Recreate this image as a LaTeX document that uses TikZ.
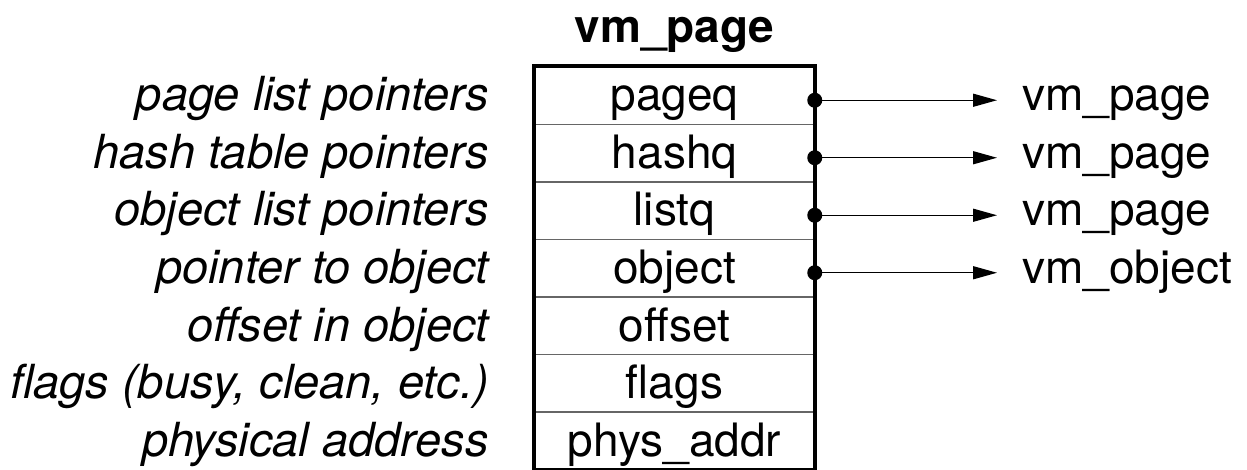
\documentclass[tikz,border=0pt]{standalone}
\usepackage{fontspec}
\setmainfont{TeX Gyre Heros}
\usetikzlibrary{arrows.meta}
\newcommand\bigtext{\fontsize{46}{55}\selectfont}
\newcommand\notetext{\fontsize{47}{56}\selectfont}
\tikzset{
  field/.style={draw=black!60, line width=1.5pt, minimum width=279pt, minimum height=57.5pt,
    inner sep=0pt, text height=36pt, text depth=5.5pt, anchor=center, font=\bigtext},
  frame/.style={draw=black, line width=4pt},
  note/.style={anchor=base east, inner sep=0pt, font=\notetext\itshape},
  target/.style={anchor=base west, inner sep=0pt, font=\bigtext},
  ptr/.style={line width=1.4pt, -{Triangle[length=24pt,width=13pt]}},
  port/.style={fill=black},
}
\begin{document}
\begin{tikzpicture}[x=1pt,y=-1pt]
\useasboundingbox (0,0) rectangle (1247,470);

% structure title
\node[anchor=base, inner sep=0pt, font=\bigtext\bfseries] (title) at (674.5,43) {vm\_page};

% fields of the structure
\node[field] (r1) at (674.5, 95.75) {pageq};
\node[field] (r2) at (674.5,153.25) {hashq};
\node[field] (r3) at (674.5,210.75) {listq};
\node[field] (r4) at (674.5,268.25) {object};
\node[field] (r5) at (674.5,325.75) {offset};
\node[field] (r6) at (674.5,383.25) {flags};
\node[field] (r7) at (674.5,440.75) {phys\_addr};

% outer frame
\draw[frame] (r1.north west) rectangle (r7.south east);

% descriptions on the left
\node[note] (n1) at (489,111) {page list pointers};
\node[note] (n2) at (489,168.5) {hash table pointers};
\node[note] (n3) at (489,226) {object list pointers};
\node[note] (n4) at (489,283.5) {pointer to object};
\node[note] (n5) at (489,341) {offset in object};
\node[note] (n6) at (489,398.5) {flags (busy, clean, etc.)};
\node[note] (n7) at (489,456) {physical address};

% referenced structures on the right
\node[target] (t1) at (1022,111) {vm\_page};
\node[target] (t2) at (1022,168.5) {vm\_page};
\node[target] (t3) at (1022,226) {vm\_page};
\node[target] (t4) at (1022,283.5) {vm\_object};

% pointer fields
\foreach \i in {1,2,3,4}{
  \coordinate (d\i) at ([yshift=-4.5pt]r\i.east);
  \draw[ptr] (d\i) -- ([xshift=-25pt]d\i -| t\i.west);
  \fill[port] (d\i) circle (7.5pt);
}
\end{tikzpicture}
\end{document}
